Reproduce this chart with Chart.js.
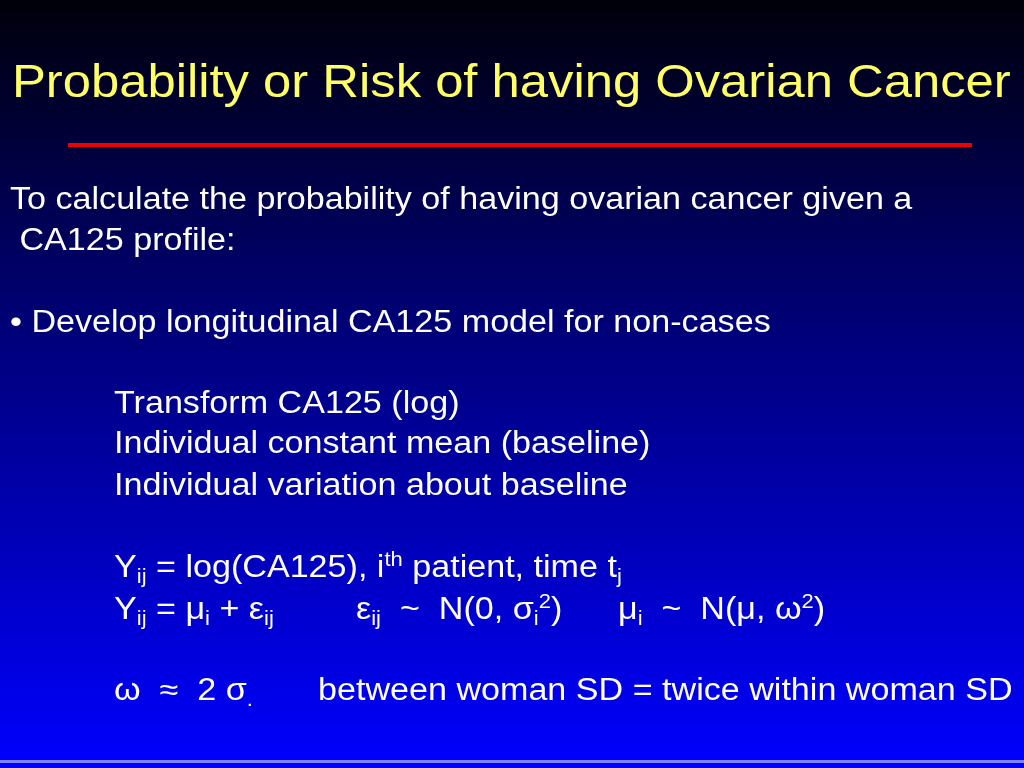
<!DOCTYPE html>
<html>
<head>
<meta charset="utf-8">
<script src="https://cdn.jsdelivr.net/npm/chart.js@4"></script>
<style>
  html, body { margin: 0; padding: 0; width: 1024px; height: 768px; overflow: hidden; }
  #wrap { position: relative; width: 1024px; height: 768px; }
  canvas { position: absolute; left: 0; top: 0; }
  .t { position: absolute; white-space: nowrap; font-family: "Liberation Sans", Arial, sans-serif; color: #fff; font-size: 31px; line-height: 34px; transform: scaleX(1.1); transform-origin: left center; }
  .title { color: #ffff66; font-size: 47px; line-height: 50px; transform: scaleX(1.08); }
  sub, sup { font-size: 20px; line-height: 0; }
  sub { vertical-align: -6px; }
  sup { vertical-align: 11px; }
</style>
</head>
<body>
<div id="wrap">
  <canvas id="slide" width="1024" height="768"></canvas>
  <div class="t title" style="left:12px; top:56px;">Probability or Risk of having Ovarian Cancer</div>
  <div class="t" style="left:10px; top:182px;">To calculate the probability of having ovarian cancer given a</div>
  <div class="t" style="left:10px; top:223px;">&nbsp;CA125 profile:</div>
  <div class="t" style="left:10px; top:305px;">• Develop longitudinal CA125 model for non-cases</div>
  <div class="t" style="left:114px; top:386px;">Transform CA125 (log)</div>
  <div class="t" style="left:114px; top:426px;">Individual constant mean (baseline)</div>
  <div class="t" style="left:114px; top:468px;">Individual variation about baseline</div>
  <div class="t" style="left:114px; top:550px;">Y<sub>ij</sub> = log(CA125), i<sup>th</sup> patient, time t<sub>j</sub></div>
  <div class="t" style="left:114px; top:592px;">Y<sub>ij</sub> = μ<sub>i</sub> + ε<sub>ij</sub></div>
  <div class="t" style="left:356px; top:592px;">ε<sub>ij</sub> &nbsp;~ &nbsp;N(0, σ<sub>i</sub><sup>2</sup>)</div>
  <div class="t" style="left:618px; top:592px;">μ<sub>i</sub> &nbsp;~ &nbsp;N(μ, ω<sup>2</sup>)</div>
  <div class="t" style="left:114px; top:673px;">ω &nbsp;≈ &nbsp;2 σ<sub>.</sub></div>
  <div class="t" style="left:318px; top:673px;">between woman SD = twice within woman SD</div>
</div>
<script>
// slide decoration: the red rule under the title
const ruleX = [68, 972];
const ruleY = [145, 145];

const backdrop = {
  id: 'backdrop',
  beforeDraw(chart) {
    const c = chart.ctx;
    const g = c.createLinearGradient(0, 0, 0, 768);
    g.addColorStop(0, '#00000a');
    g.addColorStop(0.35, '#000066');
    g.addColorStop(1, '#0000ff');
    c.save();
    c.fillStyle = g;
    c.fillRect(0, 0, 1024, 768);
    c.fillStyle = '#8080ff';
    c.fillRect(0, 760, 1024, 3);
    c.restore();
  }
};

new Chart(document.getElementById('slide'), {
  type: 'line',
  data: {
    datasets: [{
      data: ruleX.map((x, i) => ({ x: x, y: ruleY[i] })),
      borderColor: '#ee0000',
      borderWidth: 4,
      pointRadius: 0
    }]
  },
  options: {
    responsive: false,
    animation: false,
    layout: { padding: 0 },
    plugins: { legend: { display: false }, tooltip: { enabled: false } },
    scales: {
      x: { type: 'linear', min: 0, max: 1024, display: false },
      y: { type: 'linear', min: 0, max: 768, reverse: true, display: false }
    }
  },
  plugins: [backdrop]
});
</script>
</body>
</html>
